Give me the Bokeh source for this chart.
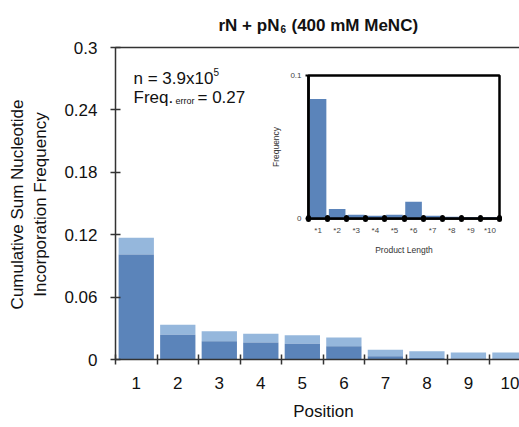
import math
from bokeh.plotting import figure
from bokeh.models import (Range1d, FixedTicker, Label, LinearAxis, ColumnDataSource)
from bokeh.embed import file_html
from bokeh.resources import INLINE

positions = [1, 2, 3, 4, 5, 6, 7, 8, 9, 10]
position_labels = ["1", "2", "3", "4", "5", "6", "7", "8", "9", "10"]
dark_vals = [0.101, 0.0238, 0.0176, 0.0163, 0.0151, 0.0128, 0.0032, 0.0015, 0.0010, 0.0010]
total_vals = [0.117, 0.0334, 0.0272, 0.0247, 0.0234, 0.0212, 0.0093, 0.0080, 0.0067, 0.0067]
y_ticks = [0, 0.06, 0.12, 0.18, 0.24, 0.3]
y_tick_labels = ["0", "0.06", "0.12", "0.18", "0.24", "0.3"]

inset_lengths = [1, 2, 3, 4, 5, 6, 7, 8, 9, 10]
inset_labels = ["*1", "*2", "*3", "*4", "*5", "*6", "*7", "*8", "*9", "*10"]
inset_freq = [0.0835, 0.0066, 0.0027, 0.0020, 0.0027, 0.0118, 0.0020, 0.0012, 0.0008, 0.0008]

DARK = "#5b84ba"
LIGHT = "#95b7dc"
FONT = "Liberation Sans"
AX = "#333333"
W, H = 519, 427

p = figure(width=W, height=H, output_backend="svg", toolbar_location=None,
           x_range=Range1d(0.5, 10.23), y_range=Range1d(0, 0.3),
           min_border_left=115, min_border_right=0, min_border_top=47, min_border_bottom=68)
p.outline_line_color = None
p.grid.visible = False
p.background_fill_color = "white"

src = ColumnDataSource(dict(x=positions, dark=dark_vals, total=total_vals))
p.vbar(x="x", top="total", bottom="dark", width=0.85, source=src, fill_color=LIGHT, line_color=None)
p.vbar(x="x", top="dark", bottom=0, width=0.85, source=src, fill_color=DARK, line_color=None)

# x axis
p.xaxis.ticker = FixedTicker(ticks=positions, minor_ticks=[v + 0.5 for v in positions[:-1]] + [0.5])
p.xaxis.major_label_overrides = {v: s for v, s in zip(positions, position_labels)}
p.xaxis.major_tick_in = 0
p.xaxis.major_tick_out = 0
p.xaxis.minor_tick_in = 5
p.xaxis.minor_tick_out = 5
p.xaxis.minor_tick_line_color = AX
p.xaxis.minor_tick_line_width = 1.5
p.xaxis.axis_line_color = AX
p.xaxis.axis_line_width = 1.5
p.xaxis.major_label_text_font = FONT
p.xaxis.major_label_text_font_size = "17px"
p.xaxis.major_label_text_color = "#111111"
p.xaxis.major_label_standoff = 12

# y axis
p.yaxis.ticker = FixedTicker(ticks=y_ticks, minor_ticks=[])
p.yaxis.major_label_overrides = {v: s for v, s in zip(y_ticks, y_tick_labels)}
p.yaxis.major_tick_in = 5
p.yaxis.major_tick_out = 5
p.yaxis.major_tick_line_color = AX
p.yaxis.major_tick_line_width = 1.5
p.yaxis.axis_line_color = AX
p.yaxis.axis_line_width = 1.5
p.yaxis.major_label_text_font = FONT
p.yaxis.major_label_text_font_size = "17px"
p.yaxis.major_label_text_color = "#111111"
p.yaxis.major_label_standoff = 13

top_axis = LinearAxis(ticker=FixedTicker(ticks=[]), major_label_text_font_size="0px",
                      major_tick_in=0, major_tick_out=0, minor_tick_in=0, minor_tick_out=0,
                      axis_line_color=AX, axis_line_width=1.5)
p.add_layout(top_axis, "above")

# transparent overlay covering the whole window, for free-standing texts
ov = figure(width=W, height=H, output_backend="svg", toolbar_location=None,
            x_range=Range1d(0, W), y_range=Range1d(0, H),
            min_border=0, min_border_left=0, min_border_right=0, min_border_top=0, min_border_bottom=0,
            styles={"position": "absolute", "left": "0px", "top": "0px", "pointer-events": "none"})
ov.axis.visible = False
ov.grid.visible = False
ov.outline_line_color = None
ov.background_fill_alpha = 0
ov.border_fill_alpha = 0

def lab(text, x, y, size, bold=False, angle=0, align="left", baseline="alphabetic"):
    ov.add_layout(Label(x=x, y=H - y, x_units="screen", y_units="screen", text=text,
                        text_font=FONT, text_font_size=size, text_color="#111111",
                        text_font_style="bold" if bold else "normal",
                        angle=angle, text_align=align, text_baseline=baseline))

# title
lab("rN + pN", 218, 25, "17px", bold=True)
lab("6", 280, 28, "10px", bold=True)
lab("(400 mM MeNC)", 291, 25, "17px", bold=True)

# annotation
lab("n = 3.9x10", 133, 78, "17px")
lab("5", 213, 71, "10px")
lab("Freq.", 133, 97, "17px")
lab("error", 175, 100, "9px")
lab("= 0.27", 197, 97, "17px")

# axis titles
lab("Cumulative Sum Nucleotide", 17, 204, "17px", angle=math.pi / 2, align="center", baseline="middle")
lab("Incorporation Frequency", 40, 204, "17px", angle=math.pi / 2, align="center", baseline="middle")
lab("Position", 323, 411, "17px", align="center", baseline="middle")

# inset
ins = figure(width=241, height=192, output_backend="svg", toolbar_location=None,
             x_range=Range1d(0.5, 10.5), y_range=Range1d(0, 0.1),
             min_border_left=35, min_border_right=10, min_border_top=10, min_border_bottom=35,
             styles={"position": "absolute", "left": "268px", "top": "65px"})
ins.grid.visible = False
ins.border_fill_alpha = 0
ins.background_fill_color = "white"
ins.outline_line_color = "black"
ins.outline_line_width = 2.5
ins.vbar(x=inset_lengths, top=inset_freq, width=0.87, fill_color=DARK, line_color=None)

ins.xaxis.ticker = FixedTicker(ticks=inset_lengths, minor_ticks=[v - 0.5 for v in inset_lengths] + [10.5])
ins.xaxis.major_label_overrides = {v: s for v, s in zip(inset_lengths, inset_labels)}
ins.xaxis.major_tick_in = 0
ins.xaxis.major_tick_out = 0
ins.xaxis.minor_tick_in = 1
ins.xaxis.minor_tick_out = 1
ins.xaxis.minor_tick_line_width = 5
ins.xaxis.minor_tick_line_cap = "round"
ins.xaxis.minor_tick_line_color = "black"
ins.xaxis.axis_line_color = "black"
ins.xaxis.axis_line_width = 2.5
ins.xaxis.major_label_text_font = FONT
ins.xaxis.major_label_text_font_size = "8px"
ins.xaxis.major_label_text_color = "#444444"
ins.xaxis.major_label_standoff = 6
ins.xaxis.axis_label = "Product Length"
ins.xaxis.axis_label_text_font = FONT
ins.xaxis.axis_label_text_font_size = "8.5px"
ins.xaxis.axis_label_text_font_style = "normal"
ins.xaxis.axis_label_text_color = "#333333"
ins.xaxis.axis_label_standoff = 7

ins.yaxis.ticker = FixedTicker(ticks=[0, 0.1], minor_ticks=[])
ins.yaxis.major_label_overrides = {0: "0", 0.1: "0.1"}
ins.yaxis.major_tick_in = 0
ins.yaxis.major_tick_out = 3
ins.yaxis.major_tick_line_color = "black"
ins.yaxis.major_tick_line_width = 2
ins.yaxis.axis_line_color = "black"
ins.yaxis.axis_line_width = 2.5
ins.yaxis.major_label_text_font = FONT
ins.yaxis.major_label_text_font_size = "8px"
ins.yaxis.major_label_text_color = "#444444"
ins.yaxis.major_label_standoff = 4
ins.yaxis.axis_label = "Frequency"
ins.yaxis.axis_label_text_font = FONT
ins.yaxis.axis_label_text_font_size = "8.5px"
ins.yaxis.axis_label_text_font_style = "normal"
ins.yaxis.axis_label_text_color = "#333333"
ins.yaxis.axis_label_standoff = 6

open("out.html", "w").write(file_html([p, ins, ov], INLINE))
